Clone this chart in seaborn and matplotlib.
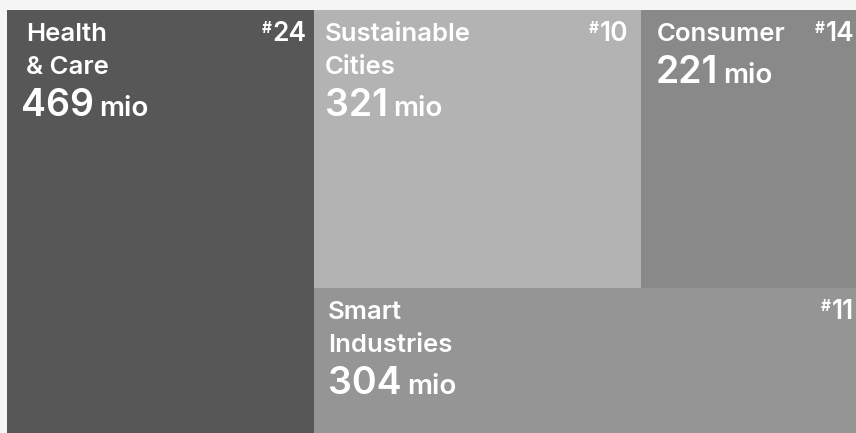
import matplotlib
matplotlib.use("Agg")
import matplotlib.pyplot as plt
import seaborn as sns

# ---- data ----
categories = ["Health\n& Care", "Sustainable\nCities", "Consumer", "Smart\nIndustries"]
values = [469, 321, 221, 304]
ranks = [24, 10, 14, 11]
unit = "mio"

# ---- style ----
colors = ["#575757", "#b3b3b3", "#898989", "#959595"]
bg = "#f5f5f5"
label_pad_left = [20, 12, 16, 15]
number_pad_left = [14, 11, 14, 14]
rank_pad_right = [7, 13, 13, 13]

sns.set_theme(style="white")
plt.rcParams["font.family"] = ["Inter", "DejaVu Sans"]

fig = plt.figure(figsize=(8.56, 4.33), dpi=100, facecolor=bg)
W, H = 860.0, 434.0  # chart canvas in px (extends past the right/bottom crop)
ax = fig.add_axes([7 / 856, (433 - 10 - H) / 433, W / 856, H / 433])
ax.set_xlim(0, W)
ax.set_ylim(H, 0)
ax.axis("off")

# ---- treemap layout computed from values (slice & dice) ----
total = sum(values)
w0 = W * values[0] / total
rest = total - values[0]
top_h = H * (values[1] + values[2]) / rest
w1 = (W - w0) * values[1] / (values[1] + values[2])
lefts = [0, w0, w0 + w1, w0]
tops = [0, 0, 0, top_h]
widths = [w0, w1, W - w0 - w1, W - w0]
heights = [H, top_h, top_h, H - top_h]

ax.bar(lefts, heights, width=widths, bottom=tops, align="edge",
       color=colors, linewidth=0)

LABEL_FS = 18.5
NUM_FS = 27
UNIT_FS = 20

for i, (cat, v, r) in enumerate(zip(categories, values, ranks)):
    x0, y0 = lefts[i], tops[i]
    lines = cat.split("\n")
    for j, ln in enumerate(lines):
        ax.text(x0 + label_pad_left[i] - 1, y0 + 31 + 33 * j, ln, color="white",
                fontsize=LABEL_FS, fontweight="semibold", ha="left", va="baseline")
    nb = y0 + 31 + 33 * (len(lines) - 1) + 42
    tn = ax.text(x0 + number_pad_left[i], nb, str(v), color="white", fontsize=NUM_FS,
                 fontweight="semibold", ha="left", va="baseline")
    ax.annotate(unit, xy=(1, nb), xycoords=(tn, "data"), xytext=(4, 0),
                textcoords="offset points", color="white", fontsize=UNIT_FS,
                fontweight="semibold", ha="left", va="baseline")
    xr = x0 + widths[i] - rank_pad_right[i]
    tr = ax.text(xr, y0 + 31, str(r), color="white", fontsize=LABEL_FS + 0.5,
                 fontweight="semibold", ha="right", va="baseline")
    ax.annotate("#", xy=(0, y0 + 31), xycoords=(tr, "data"), xytext=(-0.5, 6),
                textcoords="offset points", color="white", fontsize=11,
                fontweight="bold", ha="right", va="baseline")

fig.savefig("out.png", dpi=100, facecolor=bg)
